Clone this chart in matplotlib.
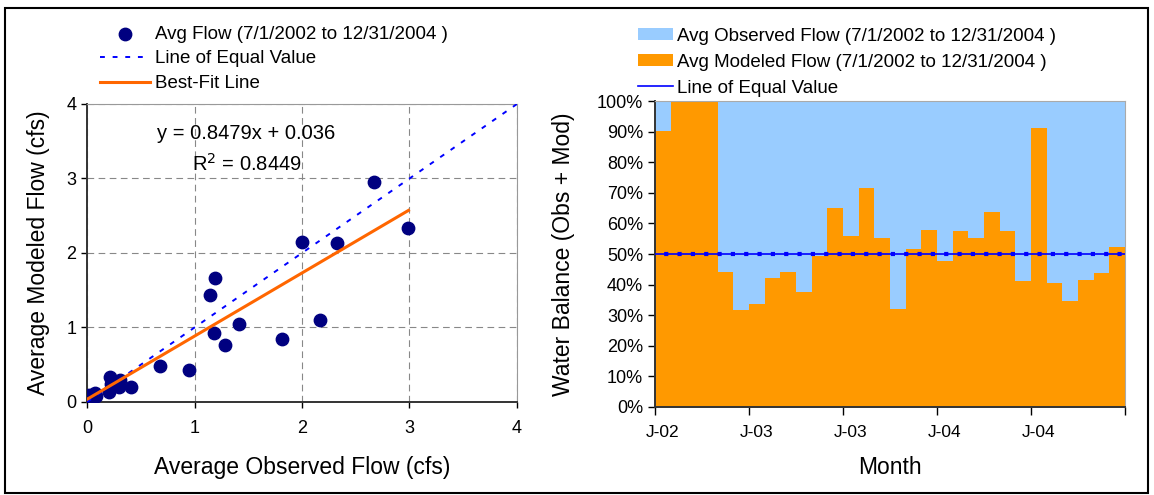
import matplotlib
matplotlib.use("Agg")
import matplotlib.pyplot as plt
import numpy as np
from matplotlib.patches import Rectangle

plt.rcParams["font.family"] = ["Liberation Sans", "DejaVu Sans"]

# monthly average flows (cfs), 7/2002 - 12/2004
obs_flow = [2.67, 2.99, 2.00, 2.33, 1.19, 1.14, 2.17, 1.41, 1.18, 1.28,
            1.81, 0.68, 0.95, 0.41, 0.21, 0.20, 0.30, 0.31, 0.22, 0.07,
            0.08, 0.04, 0.02, 0.01, 0.00, 0.03, 0.05, 0.06, 0.02, 0.01]
mod_flow = [2.95, 2.33, 2.15, 2.13, 1.66, 1.43, 1.10, 1.05, 0.92, 0.77,
            0.85, 0.48, 0.43, 0.20, 0.34, 0.14, 0.20, 0.29, 0.24, 0.12,
            0.08, 0.07, 0.05, 0.02, 0.01, 0.03, 0.10, 0.05, 0.10, 0.06]
fit_slope = 0.8479
fit_intercept = 0.036
fit_r2 = 0.8449

# modeled share of (obs + mod) per month, in percent
mod_share = [90.1, 100, 100, 100, 44.0, 31.6, 33.6, 42.2, 44.0, 37.5,
             49.2, 64.9, 55.8, 71.5, 55.1, 31.9, 51.5, 58.0, 47.6, 57.4,
             55.4, 63.6, 57.4, 41.1, 91.1, 40.4, 34.5, 41.4, 43.7, 52.2]
month_labels = ["J-02", "J-03", "J-03", "J-04", "J-04"]
period_label = "(7/1/2002 to 12/31/2004 )"

fig = plt.figure(figsize=(11.54, 4.95), dpi=100)

# ---------- scatter: modeled vs observed ----------
ax1 = fig.add_axes([0.0754, 0.1879, 0.3726, 0.602])
ax1.set_xlim(0, 4)
ax1.set_ylim(0, 4)
ax1.set_xticks([0, 1, 2, 3, 4])
ax1.set_yticks([0, 1, 2, 3, 4])
ax1.grid(True, color="#888888", linestyle=(0, (6, 4)), linewidth=0.8)
ax1.set_axisbelow(True)

ax1.scatter(obs_flow, mod_flow, s=80, color="#000080", zorder=3,
            label="Avg Flow " + period_label)
ax1.plot([0, 4], [0, 4], color="#0000FF", linestyle=(0, (2.5, 4)),
         linewidth=1.4, zorder=4, label="Line of Equal Value")
fx = np.array([min(obs_flow), max(obs_flow)])
ax1.plot(fx, fit_slope * fx + fit_intercept, color="#FF6600", linewidth=2.2,
         zorder=5, label="Best-Fit Line")

ax1.text(1.48, 3.6, f"y = {fit_slope}x + {fit_intercept}", fontsize=14.5,
         ha="center", va="center")
ax1.text(1.49, 3.2, f"R$^2$ = {fit_r2}", fontsize=14.5, ha="center",
         va="center")

ax1.set_xlabel("Average Observed Flow (cfs)", fontsize=16.5)
ax1.set_ylabel("Average Modeled Flow (cfs)", fontsize=16.5)
ax1.xaxis.set_label_coords(0.5, -0.18)
ax1.yaxis.set_label_coords(-0.087, 0.5)
ax1.tick_params(labelsize=13, direction="out", length=4, width=1)
ax1.tick_params(axis="x", pad=9)
for side in ["top", "right"]:
    ax1.spines[side].set_color("#999999")
for side in ["left", "bottom"]:
    ax1.spines[side].set_color("#333333")
    ax1.spines[side].set_linewidth(1.4)

fig.legend(*ax1.get_legend_handles_labels(), loc="upper left",
           bbox_to_anchor=(0.0867, 0.948), frameon=False, fontsize=13.5,
           handlelength=2.67, handletextpad=0.27, labelspacing=0.4,
           borderpad=0, borderaxespad=0, scatterpoints=1)

# ---------- water balance bars ----------
ax2 = fig.add_axes([0.5676, 0.1778, 0.4073, 0.618])
months = np.arange(len(mod_share))
mod_pct = np.array(mod_share) / 100
obs_pct = 1 - mod_pct
ax2.bar(months, mod_pct, width=1, align="edge", color="#FF9900",
        label="Avg Modeled Flow " + period_label)
ax2.bar(months, obs_pct, bottom=mod_pct, width=1, align="edge",
        color="#99CCFF", label="Avg Observed Flow " + period_label)
ax2.axhline(0.5, color="#0000FF", linewidth=1.2, zorder=4,
            label="Line of Equal Value")
ax2.axhline(0.5, color="#0000FF", linewidth=3, linestyle=(1, (1, 2.2)),
            zorder=5)

ax2.set_xlim(0, len(mod_share))
ax2.set_ylim(0, 1)
ax2.set_yticks(np.arange(0, 1.01, 0.1))
ax2.set_yticklabels([f"{v}%" for v in range(0, 101, 10)])
ax2.set_xticks(np.arange(0, len(mod_share) + 1, 6))
ax2.set_xticklabels([])
ax2.set_xticks(np.arange(0, len(mod_share), 6) + 0.5, minor=True)
ax2.set_xticklabels(month_labels, minor=True)
ax2.tick_params(axis="x", which="minor", length=0, pad=13, labelsize=12.5)
ax2.tick_params(axis="x", which="major", direction="out", length=6, width=1)
ax2.tick_params(axis="y", labelsize=13, direction="out", length=5, width=1)

ax2.set_xlabel("Month", fontsize=16.5)
ax2.set_ylabel("Water Balance (Obs + Mod)", fontsize=16.5)
ax2.xaxis.set_label_coords(0.5, -0.16)
ax2.yaxis.set_label_coords(-0.17, 0.5)
for side in ["top", "right"]:
    ax2.spines[side].set_color("#aaaaaa")
for side in ["left", "bottom"]:
    ax2.spines[side].set_color("#333333")
    ax2.spines[side].set_linewidth(1.4)

h, l = ax2.get_legend_handles_labels()
order = [l.index("Avg Observed Flow " + period_label),
         l.index("Avg Modeled Flow " + period_label),
         l.index("Line of Equal Value")]
fig.legend([h[i] for i in order], [l[i] for i in order], loc="upper left",
           bbox_to_anchor=(0.5529, 0.944), frameon=False, fontsize=13.5,
           handlelength=1.87, handleheight=0.64, handletextpad=0.21,
           labelspacing=0.48, borderpad=0, borderaxespad=0)

# outer frame
fig.patches.append(Rectangle((0.0045, 0.004), 0.9905, 0.98,
                             transform=fig.transFigure, fill=False,
                             edgecolor="black", linewidth=1.5))

plt.savefig("out.png", dpi=100)
